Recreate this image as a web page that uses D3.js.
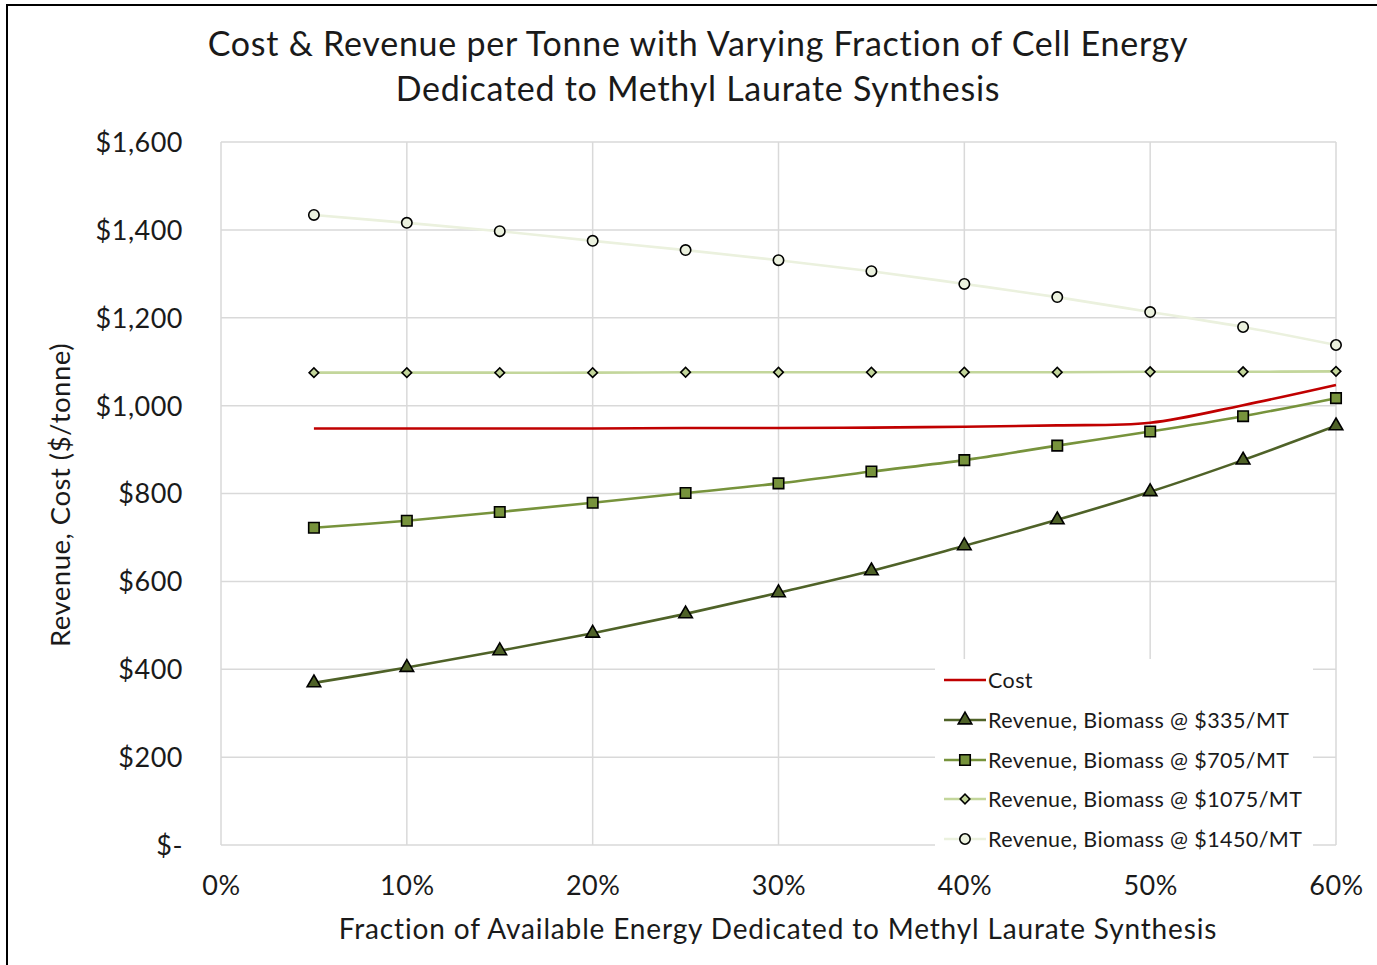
<!DOCTYPE html>
<html>
<head>
<meta charset="utf-8">
<script src="https://cdn.jsdelivr.net/npm/d3@7"></script>
<style>
  body { margin: 0; background: #fff; }
  svg { display: block; }
  text { font-family: Lato, "Open Sans", sans-serif; fill: #1a1a1a; }
</style>
</head>
<body>
<svg id="chart" width="1377" height="965"></svg>
<script>
// Fraction of available energy dedicated to methyl laurate synthesis
const fractions = [0.05, 0.10, 0.15, 0.20, 0.25, 0.30, 0.35, 0.40, 0.45, 0.50, 0.55, 0.60];

// $/tonne
const cost        = [948, 948, 948, 948, 949, 949, 950, 952, 955, 961, 1001, 1047];
const rev335      = [369, 404, 442, 482, 526, 574, 624, 681, 740, 804, 876, 954];
const rev705      = [722, 738, 758, 779, 801, 823, 850, 876, 909, 941, 976, 1017];
const rev1075     = [1075, 1075, 1075, 1075, 1076, 1076, 1076, 1076, 1076, 1077, 1077, 1078];
const rev1450     = [1434, 1416, 1397, 1375, 1354, 1331, 1306, 1277, 1247, 1213, 1179, 1138];

const yTicks = [0, 200, 400, 600, 800, 1000, 1200, 1400, 1600];
const xTicks = [0, 0.1, 0.2, 0.3, 0.4, 0.5, 0.6];

const series = [
  { name: "Cost", values: cost, color: "#c00000", marker: null },
  { name: "Revenue, Biomass @ $335/MT", values: rev335, color: "#4f6228", marker: "triangle" },
  { name: "Revenue, Biomass @ $705/MT", values: rev705, color: "#77933c", marker: "square" },
  { name: "Revenue, Biomass @ $1075/MT", values: rev1075, color: "#c3d69b", marker: "diamond" },
  { name: "Revenue, Biomass @ $1450/MT", values: rev1450, color: "#ebf1de", marker: "circle" }
];

const svg = d3.select("#chart");
const W = 1377, H = 965;
const plot = { left: 221, right: 1336, top: 142, bottom: 845 };

// Outer frame
svg.append("rect").attr("x", 7).attr("y", 5).attr("width", W + 10).attr("height", H + 10)
  .attr("fill", "#fff").attr("stroke", "#000").attr("stroke-width", 2);

const x = d3.scaleLinear().domain([0, 0.6]).range([plot.left, plot.right]);
const y = d3.scaleLinear().domain([0, 1600]).range([plot.bottom, plot.top]);

// Gridlines
const grid = svg.append("g").attr("stroke", "#d9d9d9").attr("stroke-width", 1.5);
grid.selectAll("line.h").data(yTicks).join("line")
  .attr("x1", plot.left).attr("x2", plot.right)
  .attr("y1", d => y(d)).attr("y2", d => y(d));
grid.selectAll("line.v").data(xTicks).join("line")
  .attr("x1", d => x(d)).attr("x2", d => x(d))
  .attr("y1", plot.top).attr("y2", plot.bottom);

// Axes (labels only, lines come from the grid)
const fmtDollar = d => d === 0 ? "$-" : "$" + d3.format(",")(d);
const yAxis = svg.append("g").attr("transform", `translate(${plot.left},0)`)
  .call(d3.axisLeft(y).tickValues(yTicks).tickFormat(fmtDollar).tickSize(0).tickPadding(38));
yAxis.select(".domain").remove();
yAxis.selectAll("text").style("font-size", "27px").style("letter-spacing", "0.5px")
  .attr("dy", "0.35em").attr("fill", "#1a1a1a");

const xAxis = svg.append("g").attr("transform", `translate(0,${plot.bottom})`)
  .call(d3.axisBottom(x).tickValues(xTicks).tickFormat(d3.format(".0%")).tickSize(0).tickPadding(31));
xAxis.select(".domain").remove();
xAxis.selectAll("text").style("font-size", "27px").style("letter-spacing", "0.5px").attr("fill", "#1a1a1a");

// Marker shapes
const symbolFor = {
  triangle: { gen: d3.symbol().type(d3.symbolTriangle).size(80), rot: 0 },
  square: { gen: d3.symbol().type(d3.symbolSquare).size(110), rot: 0 },
  diamond: { gen: d3.symbol().type(d3.symbolSquare).size(46), rot: 45 },
  circle: { gen: d3.symbol().type(d3.symbolCircle).size(85), rot: 0 }
};

const line = d3.line().curve(d3.curveCatmullRom.alpha(0.5))
  .x((d, i) => x(fractions[i])).y(d => y(d));

// Draw series (back to front so darker lines sit on top)
const drawOrder = [4, 3, 0, 2, 1];
drawOrder.forEach(k => {
  const s = series[k];
  const g = svg.append("g");
  g.append("path").attr("d", line(s.values)).attr("fill", "none")
    .attr("stroke", s.color).attr("stroke-width", 2.6);
  if (s.marker) {
    const m = symbolFor[s.marker];
    g.selectAll("path.m").data(s.values).join("path")
      .attr("class", "m")
      .attr("d", m.gen())
      .attr("transform", (d, i) => `translate(${x(fractions[i])},${y(d)}) rotate(${m.rot})`)
      .attr("fill", s.color).attr("stroke", "#000").attr("stroke-width", 1.6);
  }
});

// Legend
const legend = svg.append("g");
legend.append("rect").attr("x", 935).attr("y", 659).attr("width", 378).attr("height", 192).attr("fill", "#fff");
const legY = [680, 720, 760, 799, 839];
series.forEach((s, i) => {
  const g = legend.append("g").attr("transform", `translate(0,${legY[i]})`);
  g.append("line").attr("x1", 944).attr("x2", 986).attr("y1", 0).attr("y2", 0)
    .attr("stroke", s.color).attr("stroke-width", 2.6);
  if (s.marker) {
    const m = symbolFor[s.marker];
    g.append("path").attr("d", m.gen())
      .attr("transform", `translate(965,0) rotate(${m.rot})`)
      .attr("fill", s.color).attr("stroke", "#000").attr("stroke-width", 1.6);
  }
  g.append("text").attr("x", 988).attr("y", 0).attr("dy", "0.35em")
    .style("font-size", "21.5px").style("letter-spacing", "0.4px").text(s.name);
});

// Titles
const title = svg.append("text").attr("text-anchor", "middle")
  .style("font-size", "34px").style("letter-spacing", "0.75px");
title.append("tspan").attr("x", 698).attr("y", 56).text("Cost & Revenue per Tonne with Varying Fraction of Cell Energy");
title.append("tspan").attr("x", 698).attr("y", 101).text("Dedicated to Methyl Laurate Synthesis");

svg.append("text").attr("x", 778).attr("y", 939).attr("text-anchor", "middle")
  .style("font-size", "28px").style("letter-spacing", "0.85px")
  .text("Fraction of Available Energy Dedicated to Methyl Laurate Synthesis");

svg.append("text").attr("transform", "translate(70,495) rotate(-90)").attr("text-anchor", "middle")
  .style("font-size", "27.5px").style("letter-spacing", "0.5px").text("Revenue, Cost ($/tonne)");
</script>
</body>
</html>
